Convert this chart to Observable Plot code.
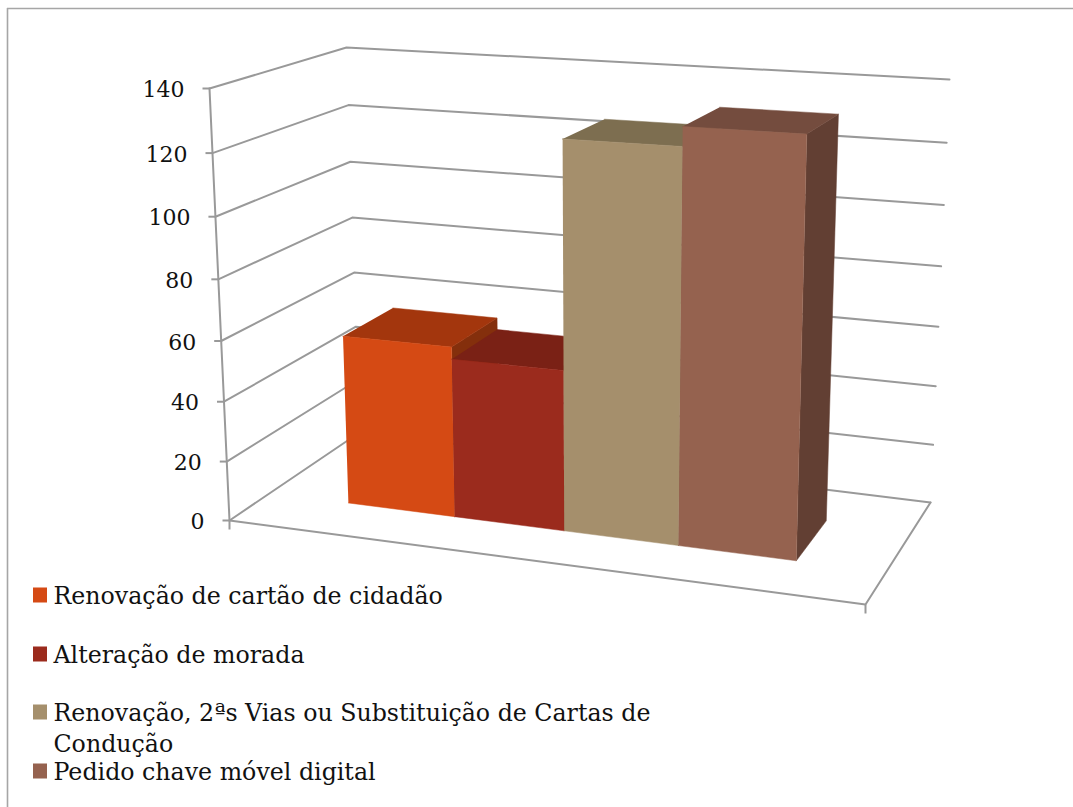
<!DOCTYPE html>
<html lang="pt">
<head>
<meta charset="utf-8">
<title>Pedidos</title>
<script src="https://cdn.jsdelivr.net/npm/d3@7"></script>
<script src="https://cdn.jsdelivr.net/npm/@observablehq/plot@0.6"></script>
<style>html,body{margin:0;padding:0;background:#fff}svg{display:block}</style>
</head>
<body>
<div id="chart"></div>
<script>
// Data
const categories = [
  "Renovação de cartão de cidadão",
  "Alteração de morada",
  "Renovação, 2ªs Vias ou Substituição de Cartas de\nCondução",
  "Pedido chave móvel digital"
];
const values = [57, 53, 126, 132];
const yTicks = [0, 20, 40, 60, 80, 100, 120, 140];
const yMax = 140;

// Styles
const frontColors = ["#D54A14", "#9B2B1D", "#A58F6C", "#95624F"];
const topColors = ["#A3360D", "#7A2115", "#7D6E50", "#744C3E"];
const sideColors = ["#842F0C", "#66200F", "#6B5D44", "#623F33"];
const gridColor = "#999999";
const font = "DejaVu Serif, serif";

// Perspective calibration of the chart box (corners of the floor and ceiling)
const W = 1073, H = 807;
const floorQuad = [[229, 520], [865, 604], [930, 502], [359, 432]];
const ceilQuad = [[209, 88], [880, 126.5], [949, 79], [346, 47]];
const depthFront = 0.29, depthBack = 0.69;
const barEdges = [0.133, 0.311, 0.491, 0.675, 0.861];
const vPersp = 0.055;

function quadMap([p0, p1, p2, p3]) {
  const dx1 = p1[0] - p2[0], dx2 = p3[0] - p2[0], sx = p0[0] - p1[0] + p2[0] - p3[0];
  const dy1 = p1[1] - p2[1], dy2 = p3[1] - p2[1], sy = p0[1] - p1[1] + p2[1] - p3[1];
  const det = dx1 * dy2 - dx2 * dy1;
  const g = (sx * dy2 - dx2 * sy) / det, h = (dx1 * sy - sx * dy1) / det;
  return (u, w) => {
    const d = 1 + g * u + h * w;
    return [
      (p0[0] + (p1[0] * (1 + g) - p0[0]) * u + (p3[0] * (1 + h) - p0[0]) * w) / d,
      (p0[1] + (p1[1] * (1 + g) - p0[1]) * u + (p3[1] * (1 + h) - p0[1]) * w) / d
    ];
  };
}
const floorMap = quadMap(floorQuad), ceilMap = quadMap(ceilQuad);
function project(u, v, w) {
  const t0 = v / yMax, t = t0 / (1 + vPersp * (1 - t0));
  const a = floorMap(u, w), b = ceilMap(u, w);
  return [a[0] + (b[0] - a[0]) * t, a[1] + (b[1] - a[1]) * t];
}
const px = d => d[0], py = d => d[1];
const path = (pts, opts) => Plot.line(pts.map(p => project(...p)), {x: px, y: py, curve: "linear", ...opts});
const face = (pts, fill) => path(pts, {fill, stroke: fill, strokeWidth: 0.5});

const marks = [];

// Frame
marks.push(Plot.ruleX([7], {y1: 8, y2: H, stroke: "#a6a6a6", strokeWidth: 1.6}));
marks.push(Plot.ruleY([8], {x1: 7, x2: W, stroke: "#a6a6a6", strokeWidth: 1.6}));

// Walls
const lineStyle = {stroke: gridColor, strokeWidth: 2};
for (const v of yTicks) marks.push(path([[0, v, 0], [0, v, 1], [1, v, 1]], lineStyle));
marks.push(path([[0, 0, 0], [1, 0, 0], [1, 0, 1]], lineStyle));
marks.push(path([[0, 0, 0], [0, yMax, 0]], lineStyle));

// Ticks
const tickPts = yTicks.map(v => ({v, p: project(0, v, 0)}));
marks.push(Plot.link(tickPts, {x1: d => d.p[0] - 7, x2: d => d.p[0], y1: d => d.p[1], y2: d => d.p[1], ...lineStyle}));
const catTicks = [project(0, 0, 0), project(1, 0, 0)];
marks.push(Plot.link(catTicks, {x1: px, x2: px, y1: py, y2: d => d[1] + 9, ...lineStyle}));
marks.push(Plot.text(tickPts, {
  x: d => d.p[0] - 25, y: d => d.p[1] + 1.5, text: d => String(d.v),
  textAnchor: "end", fontFamily: font, fontSize: 22, fill: "#111"
}));

// Bars
values.forEach((val, i) => {
  const a = barEdges[i], b = barEdges[i + 1], f = depthFront, k = depthBack;
  marks.push(face([[b, 0, f], [b, 0, k], [b, val, k], [b, val, f]], sideColors[i]));
  marks.push(face([[a, val, f], [b, val, f], [b, val, k], [a, val, k]], topColors[i]));
  marks.push(face([[a, 0, f], [b, 0, f], [b, val, f], [a, val, f]], frontColors[i]));
});

// Legend
const legendRows = [595, 654, 712, 771];
const legend = categories.map((label, i) => ({label, color: frontColors[i], row: legendRows[i]}));
marks.push(Plot.rect(legend, {
  x1: () => 33, x2: () => 47, y1: d => d.row - 7.5, y2: d => d.row + 7.5, fill: d => d.color
}));
marks.push(Plot.text(legend, {
  x: () => 53, y: d => d.row - 13.5, text: "label", textAnchor: "start", lineAnchor: "top",
  lineHeight: 1.3, fontFamily: font, fontSize: 23.7, fill: "#111"
}));

const chart = Plot.plot({
  width: W, height: H,
  marginTop: 0, marginRight: 0, marginBottom: 0, marginLeft: 0,
  style: {background: "#fff"},
  x: {domain: [0, W], range: [0, W], axis: null},
  y: {domain: [0, H], range: [0, H], axis: null},
  color: {type: "identity"},
  marks
});
document.getElementById("chart").append(chart);
</script>
</body>
</html>
